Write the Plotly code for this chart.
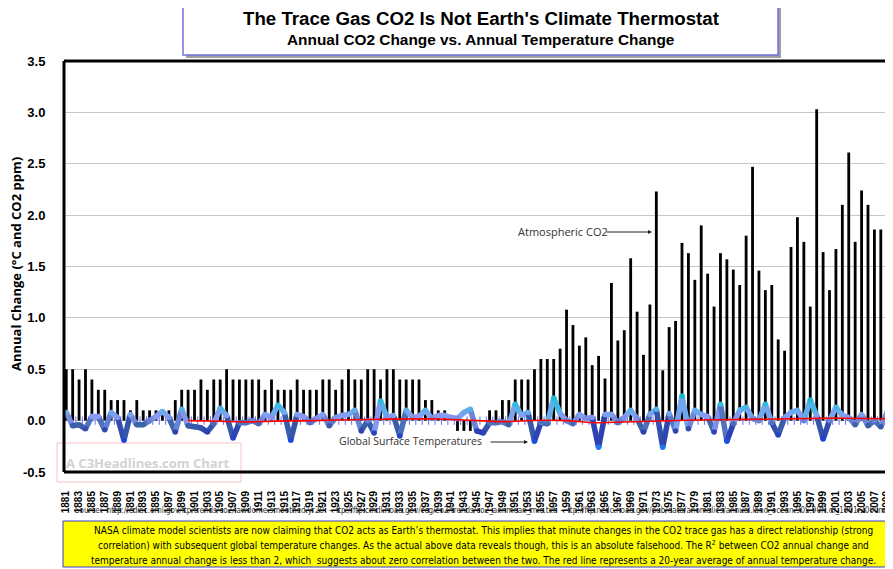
import plotly.graph_objects as go

# ---------------- data ----------------
years = list(range(1881, 2010))

co2_change = [
    0.5, 0.5, 0.4, 0.5, 0.4, 0.3, 0.3, 0.2, 0.2, 0.2,        # 1881-1890
    0.1, 0.2, 0.1, 0.1, 0.1, 0.1, 0.1, 0.2, 0.3, 0.3,        # 1891-1900
    0.3, 0.4, 0.3, 0.4, 0.4, 0.5, 0.4, 0.4, 0.4, 0.4,        # 1901-1910
    0.4, 0.3, 0.4, 0.3, 0.3, 0.3, 0.4, 0.3, 0.3, 0.3,        # 1911-1920
    0.4, 0.4, 0.3, 0.4, 0.5, 0.4, 0.4, 0.5, 0.5, 0.4,        # 1921-1930
    0.5, 0.5, 0.4, 0.4, 0.4, 0.4, 0.2, 0.2, 0.1, 0.1,        # 1931-1940
    0.0, -0.1, -0.1, -0.1, 0.0, 0.0, 0.1, 0.1, 0.2, 0.2,     # 1941-1950
    0.4, 0.4, 0.4, 0.5, 0.6, 0.6, 0.6, 0.7, 1.08, 0.93,      # 1951-1960
    0.73, 0.81, 0.54, 0.63, 0.41, 1.34, 0.78, 0.88, 1.58, 1.06,  # 1961-1970
    0.64, 1.13, 2.23, 0.49, 0.91, 0.97, 1.73, 1.63, 1.37, 1.90,  # 1971-1980
    1.43, 1.11, 1.63, 1.57, 1.47, 1.32, 1.80, 2.47, 1.46, 1.27,  # 1981-1990
    1.32, 0.79, 0.68, 1.69, 1.98, 1.74, 1.11, 3.03, 1.64, 1.27,  # 1991-2000
    1.67, 2.10, 2.61, 1.74, 2.24, 2.10, 1.86, 1.86, 1.78,        # 2001-2009
]

temp_change = [
    0.08, -0.05, -0.04, -0.08, 0.04, 0.04, -0.09, 0.08, 0.03, -0.19,   # 1881-1890
    0.06, -0.04, -0.04, 0.0, 0.04, 0.09, 0.03, -0.11, 0.11, -0.05,     # 1891-1900
    -0.06, -0.07, -0.11, -0.03, 0.12, 0.05, -0.17, -0.02, -0.02, 0.0,  # 1901-1910
    -0.03, 0.06, 0.03, 0.15, 0.08, -0.19, 0.06, 0.04, -0.02, 0.02,     # 1911-1920
    0.06, -0.05, 0.03, 0.05, 0.06, 0.10, -0.10, 0.0, -0.12, 0.19,      # 1921-1930
    0.03, 0.05, -0.15, 0.10, 0.03, 0.04, 0.10, 0.02, 0.05, 0.05,       # 1931-1940
    0.03, 0.02, 0.08, 0.11, -0.10, -0.12, -0.02, -0.02, -0.01, -0.04,  # 1941-1950
    0.16, 0.05, 0.08, -0.20, -0.02, -0.03, 0.22, 0.07, 0.0, -0.03,     # 1951-1960
    0.06, 0.02, 0.03, -0.26, 0.06, 0.06, -0.02, 0.03, 0.10, 0.02,      # 1961-1970
    -0.11, 0.06, 0.11, -0.26, 0.07, -0.10, 0.24, -0.08, 0.10, 0.06,    # 1971-1980
    0.04, -0.11, 0.16, -0.20, -0.03, 0.10, 0.13, 0.02, 0.0, 0.16,      # 1981-1990
    -0.02, -0.14, 0.03, 0.08, 0.10, 0.0, 0.20, 0.05, -0.18, 0.0,       # 1991-2000
    0.13, 0.05, 0.03, -0.04, 0.06, -0.05, 0.0, -0.06, 0.08,            # 2001-2009
]

avg_years = list(range(1900, 2010))
avg20_temp = [
    0.0, 0.0, 0.0, -0.002, -0.004, -0.006, -0.008, -0.012, -0.014, -0.014,   # 1900-1909
    -0.012, -0.01, -0.006, -0.002, 0.0, 0.002, 0.002, 0.0, -0.002, -0.002,    # 1910-1919
    0.0, 0.002, 0.004, 0.006, 0.008, 0.008, 0.01, 0.01, 0.012, 0.012,         # 1920-1929
    0.014, 0.015, 0.016, 0.017, 0.018, 0.02, 0.022, 0.02, 0.018, 0.016,       # 1930-1939
    0.014, 0.012, 0.01, 0.008, 0.005, 0.002, 0.0, -0.005, -0.01, -0.012,      # 1940-1949
    -0.01, -0.006, -0.002, 0.0, 0.002, 0.003, 0.004, 0.004, 0.002, 0.0,       # 1950-1959
    -0.004, -0.01, -0.016, -0.02, -0.02, -0.018, -0.015, -0.012, -0.01, -0.008,  # 1960-1969
    -0.006, -0.004, -0.002, 0.0, 0.002, 0.003, 0.004, 0.005, 0.005, 0.006,    # 1970-1979
    0.006, 0.007, 0.008, 0.009, 0.01, 0.011, 0.012, 0.013, 0.014, 0.015,      # 1980-1989
    0.016, 0.018, 0.02, 0.022, 0.024, 0.025, 0.026, 0.026, 0.026, 0.025,      # 1990-1999
    0.024, 0.024, 0.023, 0.023, 0.022, 0.022, 0.021, 0.021, 0.02, 0.018,      # 2000-2009
]

y_ticks = [-0.5, 0.0, 0.5, 1.0, 1.5, 2.0, 2.5, 3.0, 3.5]
x_tick_years = years[::2]

source_text = ("Source:  http://cdiac.ornl.gov/ftp/trends/co2/lawdome.smoothed.yr20  -  "
               "ftp://ftp.cmdl.noaa.gov/ccg/co2/trends/co2_annmean_mlo.txt  -  "
               "ftp://ftp.ncdc.noaa.gov/pub/data/anomalies/annual.land_ocean.90S.90N.df_1901-2000mean.dat")

note_lines = [
    "NASA climate model scientists are now claiming that CO2 acts as Earth’s thermostat. This implies that minute changes in the CO2 trace gas has a direct relationship (strong",
    "correlation) with subsequent global temperature changes. As the actual above data reveals though, this is an absolute falsehood. The R<sup>2</sup> between CO2 annual change and",
    "temperature annual change is less than 2, which  suggests about zero correlation between the two. The red line represents a 20-year average of annual temperature change.",
]

# ---------------- geometry (layout only) ----------------
# the page body adds an 8px margin, so the figure is 8px smaller and
# positions below are given in screen pixels of the 893x569 window.
W, H = 885, 561
L, R, T, B = 56, 0, 53, 97
PW, PH = W - L - R, H - T - B   # 829 x 411 ; plot spans screen x 64..893, y 61..472


def px(x):
    return (x - 64) / PW


def py(y):
    return (472 - y) / PH


# colour ramp for the temperature line
stops = [
    (-0.26, (24, 122, 240)),
    (-0.18, (32, 64, 214)),
    (-0.10, (46, 66, 176)),
    (-0.04, (60, 100, 168)),
    (0.00, (104, 130, 214)),
    (0.04, (140, 154, 244)),
    (0.09, (104, 172, 238)),
    (0.15, (54, 188, 224)),
    (0.24, (22, 184, 206)),
]


def col(v):
    if v <= stops[0][0]:
        c = stops[0][1]
    elif v >= stops[-1][0]:
        c = stops[-1][1]
    else:
        for (a, ca), (b, cb) in zip(stops[:-1], stops[1:]):
            if a <= v <= b:
                f = (v - a) / (b - a)
                c = tuple(ca[i] + f * (cb[i] - ca[i]) for i in range(3))
                break
    return "rgb(%d,%d,%d)" % tuple(int(round(x)) for x in c)


fig = go.Figure()

# small tick marks on the zero line
fig.add_trace(go.Scatter(
    x=[y + 0.5 for y in years[:-1]], y=[0] * (len(years) - 1), mode="markers",
    marker=dict(symbol="line-ns-open", size=6, line=dict(color="#a0a0a0", width=1)),
    hoverinfo="skip", showlegend=False))

# CO2 bars
fig.add_trace(go.Bar(
    x=years, y=co2_change, width=0.44, marker=dict(color="black", line=dict(width=0)),
    name="Atmospheric CO2", showlegend=False))

# temperature line (segment-coloured)
for i in range(len(years) - 1):
    v = (temp_change[i] + temp_change[i + 1]) / 2
    fig.add_trace(go.Scatter(
        x=[years[i], years[i + 1]], y=[temp_change[i], temp_change[i + 1]],
        mode="lines", line=dict(color=col(v), width=5.5),
        hoverinfo="skip", showlegend=False))
fig.add_trace(go.Scatter(
    x=years, y=temp_change, mode="markers",
    marker=dict(size=5.5, color=[col(v) for v in temp_change], line=dict(width=0)),
    name="Global Surface Temperatures", showlegend=False))

# 20-year average
fig.add_trace(go.Scatter(
    x=avg_years, y=avg20_temp, mode="lines", line=dict(color="#ff0000", width=1.6),
    name="20-year average", showlegend=False))

shapes = []
annotations = []


def note(x, y, text, font, xanchor="center", yanchor="middle", **kw):
    d = dict(xref="paper", yref="paper", x=px(x), y=py(y), text=text, showarrow=False,
             xanchor=xanchor, yanchor=yanchor, font=font)
    d.update(kw)
    annotations.append(d)


# watermark box
shapes.append(dict(type="rect", xref="paper", yref="paper",
                   x0=px(57), x1=px(241), y0=py(482), y1=py(443),
                   line=dict(color="#f4c4c4", width=1), fillcolor="rgba(0,0,0,0)", layer="below"))
note(148, 463, "<b>A C3Headlines.com Chart</b>",
     dict(family="Open Sans, Liberation Sans, sans-serif", size=13, color="#d2d2d2"))

# plot borders (left, top, bottom)
for (x0, y0, x1, y1) in [(0, 0, 0, 1), (0, 1, 1, 1), (0, 0, 1, 0)]:
    shapes.append(dict(type="line", xref="paper", yref="paper", x0=x0, y0=y0, x1=x1, y1=y1,
                       line=dict(color="black", width=3)))

# title box with shadow
shapes.append(dict(type="rect", xref="paper", yref="paper",
                   x0=px(186), x1=px(781), y0=py(58), y1=py(8),
                   line=dict(width=0), fillcolor="#a0a0a0"))
shapes.append(dict(type="rect", xref="paper", yref="paper",
                   x0=px(183), x1=px(778), y0=py(55), y1=py(5),
                   line=dict(color="#7070e0", width=1.5), fillcolor="white"))
note(481, 19, "<b>The Trace Gas CO2 Is Not Earth's Climate Thermostat</b>",
     dict(family="Liberation Sans, Arial, sans-serif", size=18.7, color="black"))
note(481, 39, "<b>Annual CO2 Change vs. Annual Temperature Change</b>",
     dict(family="Liberation Sans, Arial, sans-serif", size=15.4, color="black"))

# y-axis title
note(16, 264, "<b>Annual Change (°C and CO2 ppm)</b>",
     dict(family="Open Sans, Liberation Sans, sans-serif", size=13, color="black"), textangle=-90)

# series labels with arrows
lab_font = dict(family="Open Sans, Liberation Sans, sans-serif", size=11, color="#333333")
note(516, 231, "Atmospheric CO2", lab_font, xanchor="left")
annotations.append(dict(xref="paper", yref="paper", x=px(652), y=py(232), ax=-47, ay=0,
                        text="", showarrow=True,
                        arrowhead=2, arrowsize=0.8, arrowwidth=1, arrowcolor="#222222"))
note(337, 441, "Global Surface Temperatures", dict(lab_font, size=10.5), xanchor="left")
annotations.append(dict(xref="paper", yref="paper", x=px(528), y=py(442), ax=-39, ay=0,
                        text="", showarrow=True,
                        arrowhead=2, arrowsize=0.8, arrowwidth=1, arrowcolor="#222222"))

# data-source line under the year labels
note(73, 517, source_text,
     dict(family="Liberation Sans Narrow, DejaVu Sans Condensed, Liberation Sans, sans-serif",
          size=8, color="#333333"), xanchor="left", yanchor="bottom")

# yellow note box (runs off the right edge, as in the original)
shapes.append(dict(type="rect", xref="paper", yref="paper",
                   x0=px(63), x1=px(915), y0=py(567), y1=py(521),
                   line=dict(color="#3a3ad0", width=1), fillcolor="#ffff00"))
for k, line in enumerate(note_lines):
    note(483, 530 + 15 * k, line,
         dict(family="Liberation Sans Narrow, DejaVu Sans Condensed, Liberation Sans, sans-serif",
              size=10.0, color="black"))

fig.update_layout(
    width=W, height=H,
    margin=dict(l=L, r=R, t=T, b=B),
    paper_bgcolor="white", plot_bgcolor="white",
    showlegend=False, bargap=0.56,
    shapes=shapes, annotations=annotations,
    xaxis=dict(range=[years[0] - 0.35, years[-1] + 0.9], tickmode="array",
               tickvals=x_tick_years, ticktext=["<b>%d</b>" % y for y in x_tick_years],
               tickangle=-90, ticks="outside", ticklen=14, tickcolor="rgba(0,0,0,0)",
               showgrid=False, zeroline=False, showline=False,
               tickfont=dict(family="Liberation Sans, Arial, sans-serif", size=10, color="black")),
    yaxis=dict(range=[-0.5, 3.5], tickmode="array", tickvals=y_ticks,
               ticktext=["<b>%.1f</b>" % v for v in y_ticks],
               ticks="outside", ticklen=15, tickcolor="rgba(0,0,0,0)",
               showgrid=True, gridcolor="#c8c8c8", gridwidth=1,
               zeroline=False, showline=False,
               tickfont=dict(family="Liberation Sans, Arial, sans-serif", size=13, color="black")),
)

fig.write_html("out.html")
